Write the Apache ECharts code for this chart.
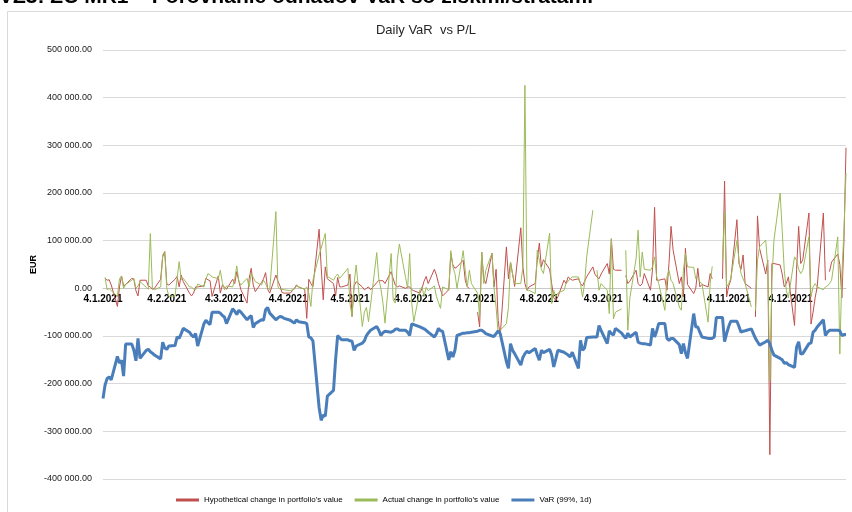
<!DOCTYPE html>
<html>
<head>
<meta charset="utf-8">
<script src="https://cdn.jsdelivr.net/npm/echarts@6/dist/echarts.min.js"></script>
<style>
    html, body { margin: 0; padding: 0; background: #fff; }
    #chart-var { width: 852px; height: 512px; }
</style>
</head>
<body>
<div id="chart-var"></div>
<script>
// Hodnoty v tis. EUR, jeden riadok = jeden týždeň (Po-Pi), od 4.1.2021 do 31.12.2021
var hypoChange = [
    null, 21, 17, 18, 7,
    -38, 3, 26, 5, 8,
    21, 19, -5, -16, 17,
    17, 5, 3, -2, 0,
    19, 66, 77, 9, 7,
    19, 25, 3, 28, 14,
    -10, -16, -10, 3, 3,
    5, 21, 18, 16, -17,
    26, -10, 7, 3, -2,
    19, 10, 35, 15, -3,
    -31, 20, 42, 7, -7,
    12, 20, 33, -2, -10,
    28, 15, 5, -9, -10,
    -10, -5, 0, 7, 3,
    -2, -63, 19, 10, 3,
    124, 45, -24, 45, 20,
    10, -16, 23, 3, 3,
    7, 30, -59, 5, 14,
    3, -3, 0, 3, -3,
    12, 17, 16, 16, 10,
    35, 20, 7, 3, 5,
    0, 3, 3, -3, -5,
    -10, 0, 15, 25, 10,
    40, 28, 10, -3, -16,
    -3, 73, 49, 42, 45,
    59, 17, 3, 0, null,
    -50, -81, 76, 20, 10,
    74, 3, 40, -67, -100,
    87, 20, 55, 30, 4,
    127, 45, 10, -4, 3,
    10, 59, 95, 45, 60,
    40, 10, -20, -25, -18,
    17, 10, 24, 20, 17,
    20, 10, 5, 15, 24,
    45, 30, 24, 20, 30,
    52, 30, 104, 40, 38,
    38, null, 27, 10, 15,
    38, 10, 5, 10, 31,
    -4, 40, 170, 17, 17,
    20, -4, 52, 130, 80,
    10, 24, -18, 84, 8,
    -11, 0, 42, 3, 8,
    3, 31, 20, null, null,
    20, 225, -18, 5, 17,
    144, 52, 40, 70, 10,
    0, null, -60, 152, 84,
    30, 59, -349, 52, 52,
    49, 30, 3, 10, 24,
    -78, 40, 130, 52, 60,
    158, -75, -50, -20, 3,
    158, 17, null, 35, 55,
    72, 50, -20, 100, 295
];

var actualChange = [
    null, 23, -3, 0, -5,
    -17, 20, 26, 0, 8,
    17, 21, 0, 5, 14,
    2, -2, 115, 0, -3,
    3, 70, 77, 0, -17,
    -16, 21, 56, 19, 21,
    3, 3, -2, -3, 9,
    3, 19, 31, 28, 24,
    20, 38, 12, -3, 5,
    3, 20, 47, 15, 7,
    21, 3, 31, 23, 14,
    7, 17, 10, 0, -3,
    161, 3, -2, -2, -3,
    -5, -3, -2, 5, 3,
    -2, 3, -10, -38, 17,
    70, 84, 100, 115, 25,
    17, 25, 30, 21, 26,
    42, -31, -59, 10, 49,
    -80, -50, -40, -70, -35,
    75, 20, 0, -30, -73,
    73, -24, -31, 60, 93,
    23, 0, 73, -31, -70,
    -3, 3, -17, 2, -5,
    5, -17, -30, -42, 3,
    -3, 79, 45, 31, 0,
    79, 38, 3, 38, 10,
    -10, -60, 76, 10, 38,
    74, 0, -40, -95, -88,
    -74, -40, 55, 30, 10,
    10, 45, 426, -4, -4,
    -11, 80, 59, 40, 31,
    116, -32, -4, -18, -10,
    -4, 10, 15, 20, 24,
    24, 10, -18, 10, 66,
    164, null, 38, -4, 10,
    -4, -53, 104, -64, -50,
    -43, null, 80, -88, -20,
    62, 122, 24, 76, 40,
    38, 45, 66, 24, 10,
    -46, 24, 38, 17, 10,
    -39, -46, 38, 73, 45,
    44, 20, 24, 13, 10,
    -71, 10, 46, null, null,
    59, 161, 3, 10, 20,
    100, 59, 31, 20, 10,
    -39, null, -46, 59, 87,
    101, 45, -194, 17, 101,
    200, 122, 38, -4, -20,
    66, 59, 40, 31, 38,
    108, -18, 3, 10, 3,
    -3, 3, 5, 10, 17,
    108, -138, 30, 120, 242
];

var varLimit = [
    -231, -203, -189, -186, -192,
    -143, -157, -151, -184, -117,
    -117, -130, -152, -105, -147,
    -130, -128, -133, -136, -140,
    -148, -113, -125, -128, -121,
    -120, -102, -105, -95, -84,
    -92, -98, -102, -95, -121,
    -75, -67, -72, -76, -50,
    -50, -52, -57, -60, -74,
    -43, -48, -55, -46, -50,
    -66, -61, -57, -82, -74,
    -66, -67, -45, -40, -52,
    -66, -62, -59, -60, -63,
    -67, -70, -73, -66, -70,
    -72, -74, -102, -104, -110,
    -250, -277, -266, -268, -226,
    -214, -150, -99, -104, -108,
    -108, -110, -111, -130, -121,
    -115, -110, -99, -93, -88,
    -80, -88, -99, -93, -90,
    -92, -90, -86, -85, -88,
    -88, -92, -99, -75, -76,
    -81, -83, -85, -88, -92,
    -102, -95, -84, -89, -90,
    -150, -133, -144, -130, -99,
    -94, -94, -93, -93, -92,
    -90, -88, -88, -91, -95,
    -100, -101, -95, -89, -95,
    -154, -168, -116, -130, -137,
    -161, -145, -137, -132, -135,
    -126, -140, -151, -130, -135,
    -128, -140, -165, -148, -130,
    -134, -137, -140, -144, -134,
    -168, -109, -130, -125, -103,
    -102, -102, -102, -78, -88,
    -116, -89, -95, -98, -84,
    -94, -100, -105, -94, -102,
    -92, -113, -115, -116, -116,
    -119, -84, -102, -90, -74,
    -74, -105, -109, -105, -105,
    -118, -137, -116, -135, -147,
    -53, -81, -81, -92, -102,
    -105, -105, -105, -102, -61,
    -61, -112, -95, -80, -69,
    -69, -80, -92, -90, -89,
    -85, -95, -105, -112, -119,
    -112, -109, -116, -130, -140,
    -147, -150, -157, -156, -160,
    -166, -123, -112, -138, -137,
    -116, -115, -92, -88, -81,
    -66, -99, -92, -88, -88,
    -88, -89, -99, -97, -97
];

var tickLabels = ['4.1.2021', '4.2.2021', '4.3.2021', '4.4.2021', '4.5.2021', '4.6.2021',
    '4.7.2021', '4.8.2021', '4.9.2021', '4.10.2021', '4.11.2021', '4.12.2021'];

var seriesNames = ['Hypothetical change in portfolio\u2019s value', 'Actual change in portfolio\u2019s value', 'VaR (99%, 1d)'];

// kalendárne dni osi x
var days = [];
var workIdx = [];
var d = new Date(Date.UTC(2021, 0, 4));
var end = Date.UTC(2021, 11, 31);
while (d.getTime() <= end) {
    days.push(d.getUTCDate() + '.' + (d.getUTCMonth() + 1) + '.' + d.getUTCFullYear());
    var wd = d.getUTCDay();
    if (wd !== 0 && wd !== 6) workIdx.push(days.length - 1);
    d = new Date(d.getTime() + 86400000);
}

function toPairs(values) {
    return values.map((v, k) => [workIdx[k], v]);
}

function fmtEur(v) {
    var n = Math.abs(v * 1000).toFixed(2);
    var parts = n.split('.');
    var intPart = parts[0].replace(/\B(?=(\d{3})+(?!\d))/g, ' ');
    return (v < 0 ? '-' : '') + intPart + '.' + parts[1];
}

var chartDom = document.getElementById('chart-var');
var myChart = echarts.init(chartDom);

var option = {
    animation: false,
    textStyle: { fontFamily: 'Liberation Sans' },
    title: {
        text: 'Daily VaR  vs P/L',
        left: 'center',
        top: 19,
        textStyle: { fontSize: 13, fontWeight: 'normal', color: '#262626', fontFamily: 'Liberation Sans' }
    },
    graphic: [
        {
            type: 'text',
            x: -1,
            y: -2.5,
            style: {
                text: 'VZ3: ZC MR1 \u2013 Porovnanie odhadov VaR so ziskmi/stratami',
                font: 'bold 21px "Liberation Sans"',
                fill: '#000',
                verticalAlign: 'middle'
            }
        },
        {
            type: 'rect',
            shape: { x: 7.5, y: 11.5, width: 900, height: 600 },
            style: { fill: 'none', stroke: '#d9d9d9', lineWidth: 1 },
            silent: true
        }
    ],
    legend: {
        left: 171,
        top: 491,
        itemWidth: 23,
        itemHeight: 3,
        itemGap: 12,
        icon: 'rect',
        textStyle: { fontSize: 8, color: '#000', fontFamily: 'Liberation Sans' },
        data: seriesNames
    },
    grid: { left: 103, right: 6, top: 50, bottom: 33 },
    xAxis: {
        type: 'category',
        data: days,
        boundaryGap: false,
        offset: -191,
        axisLine: { onZero: false, lineStyle: { color: '#c8c8c8' } },
        axisTick: { show: false },
        axisLabel: {
            interval: (idx, val) => tickLabels.indexOf(val) >= 0,
            margin: 6,
            fontSize: 10,
            fontWeight: 'bold',
            color: '#000'
        },
        splitLine: { show: false }
    },
    yAxis: {
        type: 'value',
        min: -400,
        max: 500,
        interval: 100,
        name: 'EUR',
        nameLocation: 'middle',
        nameRotate: 90,
        nameGap: 65,
        nameMoveOverlap: false,
        nameTextStyle: { fontSize: 9, fontWeight: 'bold', color: '#000' },
        axisLine: { show: false },
        axisTick: { show: false },
        axisLabel: { formatter: fmtEur, fontSize: 9, color: '#1a1a1a', margin: 11 },
        splitLine: { lineStyle: { color: '#d9d9d9' } }
    },
    series: [
        {
            name: seriesNames[0],
            type: 'line',
            data: toPairs(hypoChange),
            showSymbol: false,
            color: '#C0504D',
            lineStyle: { width: 1 }
        },
        {
            name: seriesNames[1],
            type: 'line',
            data: toPairs(actualChange),
            showSymbol: false,
            color: '#9BBB59',
            lineStyle: { width: 1 }
        },
        {
            name: seriesNames[2],
            type: 'line',
            data: toPairs(varLimit),
            showSymbol: false,
            color: '#4A7EBB',
            lineStyle: { width: 3 }
        }
    ]
};

myChart.setOption(option);
</script>
</body>
</html>
